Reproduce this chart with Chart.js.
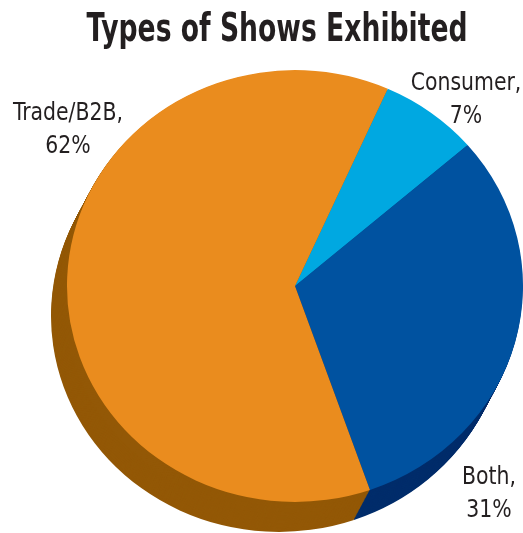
<!DOCTYPE html>
<html>
<head>
<meta charset="utf-8">
<script src="https://cdn.jsdelivr.net/npm/chart.js@4.4.0/dist/chart.umd.min.js"></script>
<style>
  html, body { margin: 0; padding: 0; background: #fff; }
  #wrap { position: relative; width: 523px; height: 533px; overflow: hidden; }
  #title {
    position: absolute; left: 0; top: 5px; width: 555px; text-align: center;
    font-family: "Liberation Sans Narrow", "DejaVu Sans Condensed", sans-serif;
    font-weight: bold; font-size: 39px; color: #231f20; white-space: nowrap;
  }
  #title span { display: inline-block; transform-origin: center; }
  canvas { position: absolute; left: 0; top: 0; }
</style>
</head>
<body>
<div id="wrap">
  <canvas id="pie" width="523" height="533"></canvas>
  <div id="title"><span id="titleText">Types of Shows Exhibited</span></div>
</div>
<script>
// DATA
const categories = ['Consumer', 'Both', 'Trade/B2B'];
const shares = [7, 31, 62];
const topColors = ['#00a8e1', '#0052a0', '#ea8c1e'];
const sideColors = ['#0079a8', '#002d6b', '#935806'];

// squeeze the title to the condensed width of the original
const titleSpan = document.getElementById('titleText');
titleSpan.style.transform = 'scaleX(' + (381 / titleSpan.offsetWidth) + ')';

const TILT = 0.947;      // vertical squash of the pie
const DEPTH_X = -16;     // extrusion offset
const DEPTH_Y = 30;

function tilt(ctx, cx, cy) {
  ctx.translate(cx, cy);
  ctx.scale(1, TILT);
  ctx.translate(-cx, -cy);
}

const pie3d = {
  id: 'pie3d',
  beforeDatasetsDraw(chart) {
    const ctx = chart.ctx;
    const arcs = chart.getDatasetMeta(0).data;
    const steps = 32;
    for (let s = steps; s >= 1; s--) {
      ctx.save();
      ctx.translate(DEPTH_X * s / steps, DEPTH_Y * s / steps);
      tilt(ctx, arcs[0].x, arcs[0].y);
      arcs.forEach((arc, i) => {
        const p = arc.getProps(['x', 'y', 'startAngle', 'endAngle', 'outerRadius']);
        ctx.beginPath();
        ctx.moveTo(p.x, p.y);
        ctx.arc(p.x, p.y, p.outerRadius, p.startAngle, p.endAngle);
        ctx.closePath();
        ctx.fillStyle = sideColors[i];
        ctx.fill();
      });
      ctx.restore();
    }
    ctx.save();
    tilt(ctx, arcs[0].x, arcs[0].y);
  },
  afterDatasetsDraw(chart) {
    chart.ctx.restore();
  }
};

// label anchors (centre of first line)
const labelSpots = [[466, 83], [489, 477], [68, 113]];

const sliceLabels = {
  id: 'sliceLabels',
  afterDraw(chart) {
    const ctx = chart.ctx;
    ctx.save();
    ctx.fillStyle = '#231f20';
    ctx.font = '25px "Liberation Sans Narrow", "DejaVu Sans Condensed", sans-serif';
    ctx.textAlign = 'center';
    ctx.textBaseline = 'middle';
    // narrow the font to the width of the original lettering
    const squeeze = 110 / ctx.measureText('Trade/B2B,').width;
    categories.forEach((c, i) => {
      const [x, y] = labelSpots[i];
      ctx.save();
      ctx.translate(x, y);
      ctx.scale(squeeze, 1);
      ctx.fillText(c + ',', 0, 0);
      ctx.fillText(shares[i] + '%', 0, 33);
      ctx.restore();
    });
    ctx.restore();
  }
};

new Chart(document.getElementById('pie'), {
  type: 'pie',
  data: {
    labels: categories,
    datasets: [{
      data: shares,
      backgroundColor: topColors,
      borderWidth: 0
    }]
  },
  options: {
    responsive: false,
    animation: false,
    rotation: 24,
    layout: { padding: { left: 67, right: 0, top: 58, bottom: 19 } },
    plugins: {
      legend: { display: false },
      tooltip: { enabled: false },
      title: { display: false }
    }
  },
  plugins: [pie3d, sliceLabels]
});
</script>
</body>
</html>
